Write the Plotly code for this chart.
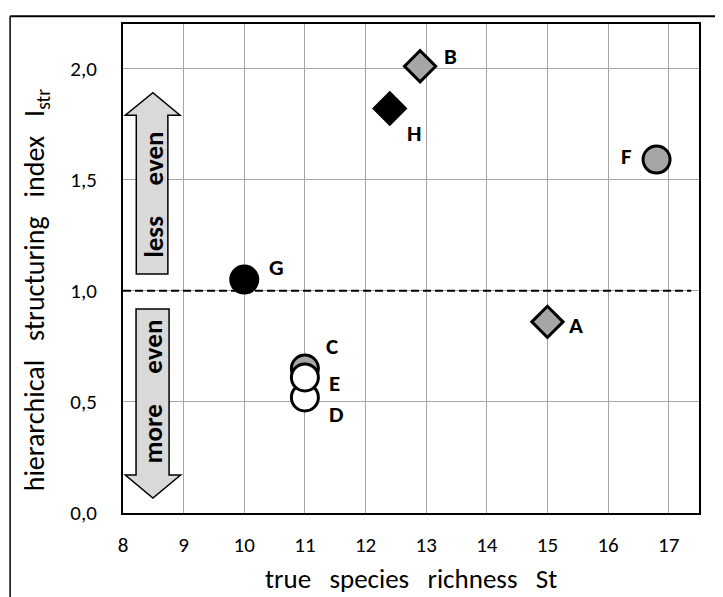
import plotly.graph_objects as go

# ---- data ----
names = ["A", "B", "C", "D", "E", "F", "G", "H"]
richness = [15.0, 12.9, 11.0, 11.0, 11.0, 16.8, 10.0, 12.4]
istr = [0.86, 2.01, 0.65, 0.52, 0.61, 1.59, 1.05, 1.82]
fills = ["#a6a6a6", "#a6a6a6", "#a6a6a6", "#ffffff", "#ffffff", "#a6a6a6", "#000000", "#000000"]
symbols = ["diamond", "diamond", "circle", "circle", "circle", "circle", "circle", "diamond"]

x_ticks = list(range(8, 18))
y_ticks = [0.0, 0.5, 1.0, 1.5, 2.0]
y_tick_labels = ["0,0", "0,5", "1,0", "1,5", "2,0"]
reference_level = 1.0

# ---- style ----
FONT = "Carlito, Lato, sans-serif"
SP = "\u00a0"
label_offsets = {"A": (29, -3), "B": (30, 10), "C": (27, 23), "D": (32, -17),
                 "E": (30, -6), "F": (-30, 4), "G": (32, 13), "H": (25, -25)}
sizes = [24 if s == "diamond" else 27 for s in symbols]

fig = go.Figure()
fig.add_trace(go.Scatter(
    x=richness, y=istr, mode="markers",
    marker=dict(symbol=symbols, size=sizes, color=fills, opacity=1,
                line=dict(color="black", width=3)),
    hoverinfo="skip", showlegend=False))

annotations = []
for n, xv, yv in zip(names, richness, istr):
    dx, dy = label_offsets[n]
    annotations.append(dict(x=xv, y=yv, xref="x", yref="y", text=f"<b>{n}</b>",
                            showarrow=False, xshift=dx, yshift=dy,
                            font=dict(family=FONT, size=23, color="black")))

# axis titles
gap = SP * 2 + " "
annotations.append(dict(x=0.5, y=-0.133, xref="paper", yref="paper",
                        text=gap.join(["true", "species", "richness", "St"]), showarrow=False,
                        xanchor="center", yanchor="middle",
                        font=dict(family=FONT, size=27, color="black")))
annotations.append(dict(x=-0.1505, y=0.456, xref="paper", yref="paper",
                        text=gap.join(["hierarchical", "structuring", "index", "I<sub>str</sub>"]),
                        showarrow=False, textangle=-90, xanchor="center", yanchor="middle",
                        font=dict(family=FONT, size=28, color="black")))

# arrow texts
agap = SP * 5
annotations.append(dict(x=8.49, y=1.43, xref="x", yref="y", text=f"<b>less{agap}even</b>",
                        showarrow=False, textangle=-90,
                        font=dict(family=FONT, size=27, color="black")))
annotations.append(dict(x=8.49, y=0.545, xref="x", yref="y", text=f"<b>more{agap}even</b>",
                        showarrow=False, textangle=-90,
                        font=dict(family=FONT, size=27, color="black")))

shapes = []
# dashed reference line
shapes.append(dict(type="line", xref="x", yref="y", x0=8, x1=17.37,
                   y0=reference_level, y1=reference_level, layer="between",
                   line=dict(color="black", width=2, dash="8px,4px")))
# block arrows
up_path = ("M 8.219,1.075 L 8.219,1.79 L 8.038,1.79 L 8.493,1.891 "
           "L 8.94,1.79 L 8.74,1.79 L 8.74,1.075 Z")
down_path = ("M 8.215,0.918 L 8.215,0.171 L 8.038,0.171 L 8.493,0.067 "
             "L 8.95,0.171 L 8.76,0.171 L 8.76,0.918 Z")
for p in (up_path, down_path):
    shapes.append(dict(type="path", xref="x", yref="y", path=p,
                       fillcolor="#d9d9d9", line=dict(color="black", width=1.5),
                       layer="above"))
# outer frame (top and left edges)
shapes.append(dict(type="line", xref="paper", yref="paper", x0=-0.196, x1=1.04,
                   y0=1.016, y1=1.016, line=dict(color="black", width=2)))
shapes.append(dict(type="line", xref="paper", yref="paper", x0=-0.196, x1=-0.196,
                   y0=1.016, y1=-0.25, line=dict(color="black", width=1.5)))

fig.update_layout(
    width=715, height=589,
    margin=dict(l=115, r=24, t=16, b=84),
    paper_bgcolor="white", plot_bgcolor="white",
    font=dict(family=FONT, size=21, color="black"),
    annotations=annotations, shapes=shapes,
    xaxis=dict(range=[8, 17.5], tickvals=x_ticks, ticktext=[str(v) for v in x_ticks],
               showgrid=True, gridcolor="#a6a6a6", gridwidth=1.3,
               showline=True, linecolor="black", linewidth=2, mirror=True,
               zeroline=False, ticks="", ticklabelstandoff=12, automargin=False,
               tickfont=dict(family=FONT, size=21, color="black")),
    yaxis=dict(range=[0, 2.2], tickvals=y_ticks, ticktext=y_tick_labels,
               showgrid=True, gridcolor="#a6a6a6", gridwidth=1.3,
               showline=True, linecolor="black", linewidth=2, mirror=True,
               zeroline=False, ticks="", ticklabelstandoff=20, automargin=False,
               tickfont=dict(family=FONT, size=21, color="black")),
)

fig.write_html("out.html")
